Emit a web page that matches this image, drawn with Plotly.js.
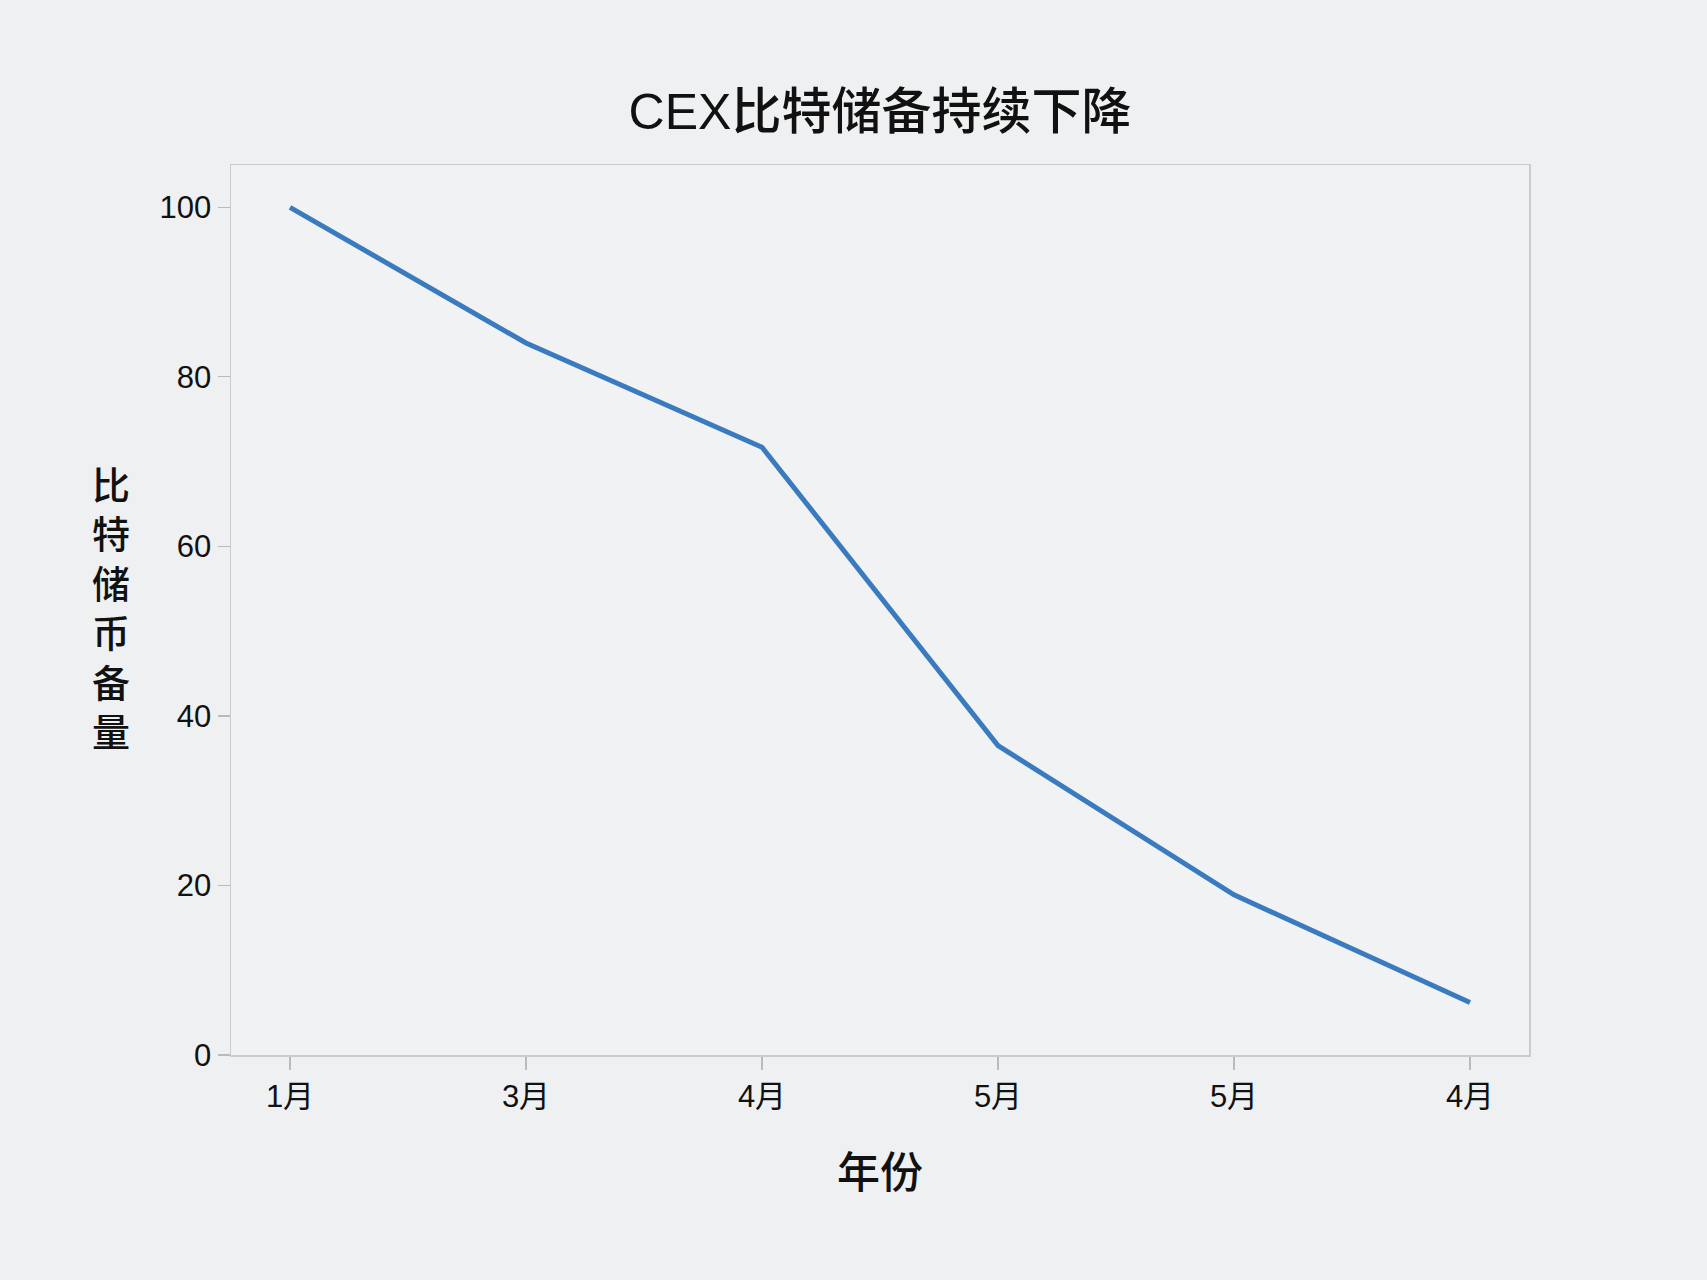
<!DOCTYPE html>
<html>
<head>
<meta charset="utf-8">
<script src="https://cdn.plot.ly/plotly-3.0.1.min.js"></script>
<style>
html,body{margin:0;padding:0;background:#eef0f1;}
#chart{width:1707px;height:1280px;}
</style>
</head>
<body>
<div id="chart"></div>
<script>
const positions = [0, 1, 2, 3, 4, 5];
const tickLabels = ["1月", "3月", "4月", "5月", "5月", "4月"];
const reserves = [100, 84, 71.7, 36.5, 18.9, 6.2];
const yTicks = [0, 20, 40, 60, 80, 100];
const chartTitle = "CEX比特储备持续下降";
const xTitle = "年份";
const yTitle = "比特储币备量";

const FONT = '"Liberation Sans", Arial, "Noto Sans CJK SC", sans-serif';

const trace = {
  x: positions,
  y: reserves,
  type: 'scatter',
  mode: 'lines',
  line: {color: '#3a7bbf', width: 5},
  hoverinfo: 'skip'
};

const ml = 231, mr = 178, mt = 165, mb = 225;
const plotH = 1280 - mt - mb;

const annotations = [
  {
    text: Array.from(yTitle).join('<br>'),
    xref: 'paper', yref: 'paper',
    x: (111 - ml) / (1707 - ml - mr), y: (1280 - mb - 609) / plotH,
    xanchor: 'center', yanchor: 'middle', align: 'center', showarrow: false,
    font: {family: FONT, size: 38, color: '#111', weight: 500}
  },
  {
    text: xTitle, xref: 'paper', yref: 'paper',
    x: 0.5, y: (1280 - mb - 1173) / plotH,
    xanchor: 'center', yanchor: 'middle', showarrow: false,
    font: {family: FONT, size: 43, color: '#111', weight: 500}
  }
];

const layout = {
  width: 1707, height: 1280,
  margin: {l: ml, r: mr, t: mt, b: mb, pad: 0},
  paper_bgcolor: '#eef0f1',
  plot_bgcolor: '#f1f2f3',
  showlegend: false,
  title: {
    text: chartTitle,
    x: 0.5, xref: 'paper', xanchor: 'center',
    y: 1 - 111 / 1280, yref: 'container', yanchor: 'middle',
    font: {family: FONT, size: 50, color: '#111', weight: 500}
  },
  xaxis: {
    range: [-0.25, 5.25],
    tickmode: 'array', tickvals: positions, ticktext: tickLabels,
    showgrid: false, zeroline: false,
    showline: true, mirror: true, linecolor: '#c9cbcd', linewidth: 1.5,
    ticks: 'outside', ticklen: 13, tickwidth: 1.2, tickcolor: '#b8babc',
    tickfont: {family: FONT, size: 31, color: '#111'},
    fixedrange: true
  },
  yaxis: {
    range: [0, 105],
    tickmode: 'array', tickvals: yTicks,
    showgrid: false, zeroline: false,
    showline: true, mirror: true, linecolor: '#c9cbcd', linewidth: 1.5,
    ticks: 'outside', ticklen: 12, tickwidth: 1.2, tickcolor: '#b8babc',
    tickfont: {family: FONT, size: 31, color: '#111'},
    fixedrange: true
  },
  annotations: annotations
};

Plotly.newPlot('chart', [trace], layout, {displayModeBar: false, staticPlot: true});
</script>
</body>
</html>
